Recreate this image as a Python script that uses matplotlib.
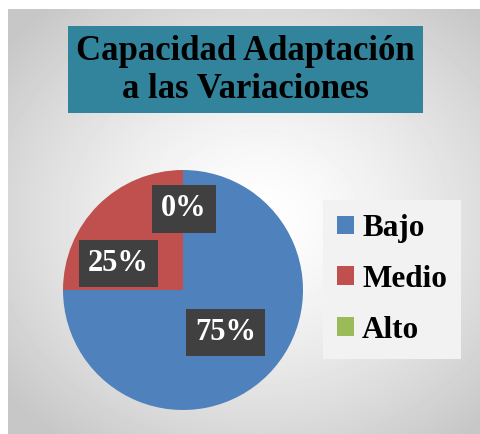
import numpy as np
import matplotlib.pyplot as plt
from matplotlib.patches import Rectangle

categorias = ['Bajo', 'Medio', 'Alto']
valores = [75, 25, 0]
colores = ['#4F81BD', '#C0504D', '#9BBB59']
titulo = 'Capacidad Adaptación\na las Variaciones'

plt.rcParams['font.family'] = ['Liberation Serif', 'DejaVu Serif']

fig = plt.figure(figsize=(4.8, 4.34), dpi=100)
fig.patch.set_facecolor('white')

# fondo con degradado radial
bg = fig.add_axes([8/480, 0, 1 - 8/480, 1 - 9/434])
yy, xx = np.mgrid[0:425, 0:472]
d = np.sqrt(((xx - 250) / 300.0) ** 2 + ((yy - 210) / 260.0) ** 2)
g = np.clip(1.0 - 0.2 * d ** 1.4, 0.78, 1.0)
bg.imshow(g, cmap='gray', vmin=0, vmax=1, aspect='auto', interpolation='bilinear')
bg.axis('off')

# titulo
fig.patches.append(Rectangle((68/480, 1 - 113/434), 355/480, 87/434,
                             transform=fig.transFigure, facecolor='#31849B',
                             edgecolor='none', zorder=2))
fig.text(245/480, 1 - 71/434, titulo, ha='center', va='center',
         fontsize=25, fontweight='bold', color='black', linespacing=1.2, zorder=3)

ax = fig.add_axes([63/480, 1 - 410/434, 240/480, 240/434])
wedges, textos, pcts = ax.pie(valores, colors=colores, startangle=90, counterclock=False,
                              autopct='%1.0f%%', pctdistance=0.5, radius=1,
                              wedgeprops=dict(linewidth=0))
ax.set_xlim(-1, 1)
ax.set_ylim(-1, 1)
ax.set_aspect('auto')

# mover etiquetas que se solapan
pcts[1].set_position((-0.54, 0.22))
pcts[2].set_position((0.005, 0.675))
for t in pcts:
    t.set_color('white')
    t.set_fontsize(22)
    t.set_fontweight('bold')
    t.set_bbox(dict(boxstyle='square,pad=0.3', facecolor='#404040', edgecolor='none'))

leg = fig.legend(wedges, categorias, loc='upper left',
                 bbox_to_anchor=(323/480, 1 - 200/434), frameon=True,
                 prop=dict(size=22.5, weight='bold'), handlelength=0.55, handleheight=0.55,
                 handletextpad=0.25, labelspacing=0.7, borderpad=0.45,
                 borderaxespad=0)
leg.get_frame().set_facecolor('#F2F2F2')
leg.get_frame().set_edgecolor('none')
leg.get_frame().set_alpha(1)
leg.get_frame().set_boxstyle('square', pad=0)

fig.savefig('out.png', dpi=100)
